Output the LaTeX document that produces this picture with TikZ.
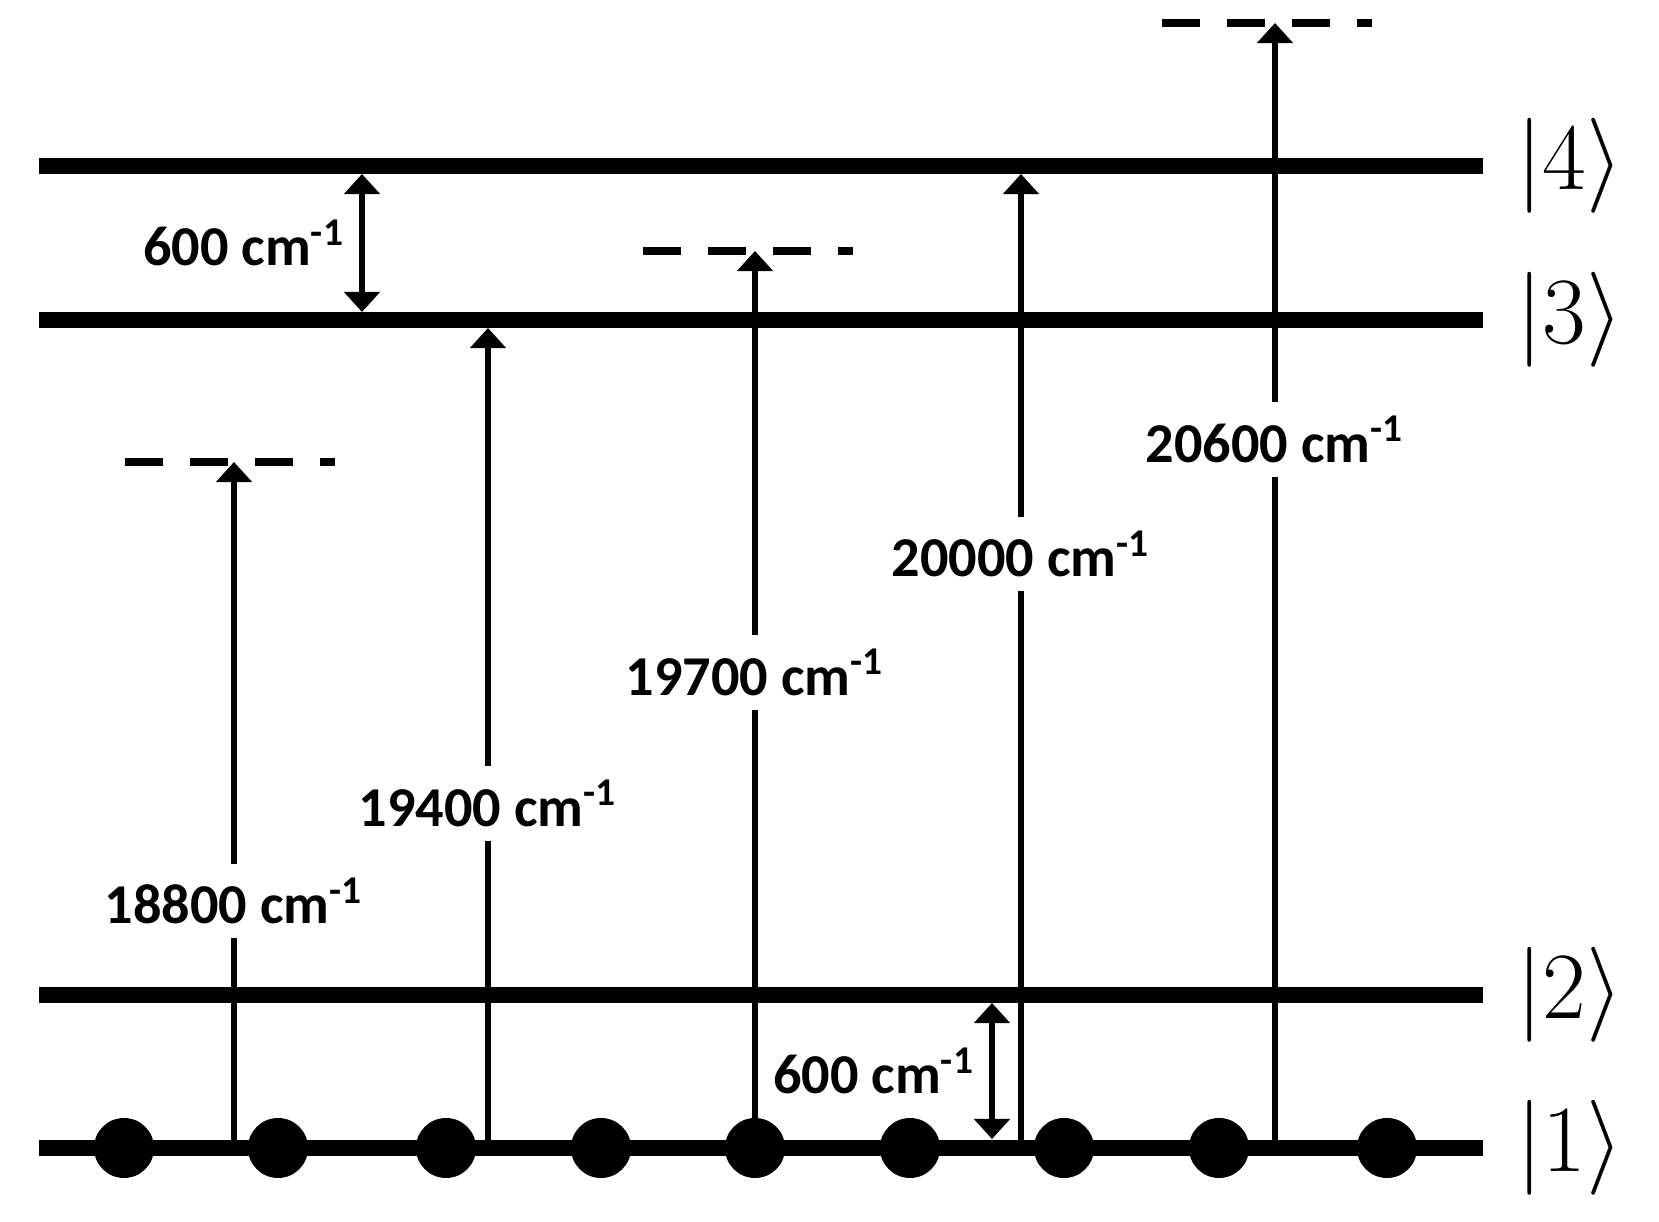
\documentclass[tikz,border=0pt]{standalone}
\usepackage{fix-cm}
\usepackage{fontspec}
\setsansfont{Carlito}
\usetikzlibrary{arrows.meta}

\begin{document}
\begin{tikzpicture}[%
    x=0.01cm, y=-0.01cm,
    level/.style={%
      line width=4.8pt     % thick level line
    },
    virtual/.style={%
      line width=2.3pt,    % thinner than a level
      dash pattern=on 0.38cm off 0.27cm
    },
    transition/.style={%
      ->,                  % single headed
      line width=1.8pt,    % medium arrows
      >={Triangle[width=3.5mm,length=2mm]}
    },
    spacing/.style={%
      transition,          % same as transition
      <->                  % but double headed
    },
    wavenumber/.style={%
      fill=white,          % cut the arrow below it
      inner sep=4pt,
      font=\sffamily\bfseries\fontsize{16}{18}\selectfont
    },
    ket/.style={%
      inner sep=0pt,
      font=\fontsize{27}{30}\selectfont
    },
    electron/.style={%
      circle,              % round dot
      fill=black,          % filled in black
      minimum size=0.6cm,
      inner sep=0pt
    }
]
    \useasboundingbox (0,0) rectangle (1659,1222);

    % levels
    \coordinate (lvl1-w) at (39,1148);  \coordinate (lvl1-e) at (1483,1148);
    \coordinate (lvl2-w) at (39,995);   \coordinate (lvl2-e) at (1483,995);
    \coordinate (lvl3-w) at (39,320);   \coordinate (lvl3-e) at (1483,320);
    \coordinate (lvl4-w) at (39,166);   \coordinate (lvl4-e) at (1483,166);

    \draw[level] (lvl1-w) -- (lvl1-e);
    \draw[level] (lvl2-w) -- (lvl2-e);
    \draw[level] (lvl3-w) -- (lvl3-e);
    \draw[level] (lvl4-w) -- (lvl4-e);

    \node at (1570,1148) [ket] (ket1) {$|1\rangle$};
    \node at (1570,995)  [ket] (ket2) {$|2\rangle$};
    \node at (1570,320)  [ket] (ket3) {$|3\rangle$};
    \node at (1570,166)  [ket] (ket4) {$|4\rangle$};

    % virtual levels
    \coordinate (virt1-w) at (125,462);  \coordinate (virt1-e) at (335,462);
    \coordinate (virt2-w) at (643,251);  \coordinate (virt2-e) at (853,251);
    \coordinate (virt3-w) at (1162,23);  \coordinate (virt3-e) at (1372,23);

    \draw[virtual] (virt1-w) -- (virt1-e);
    \draw[virtual] (virt2-w) -- (virt2-e);
    \draw[virtual] (virt3-w) -- (virt3-e);

    % transitions
    \coordinate (from1) at (234,1148);   \coordinate (to1) at (234,462);
    \coordinate (from2) at (488,1148);   \coordinate (to2) at (488,328);
    \coordinate (from3) at (755,1148);   \coordinate (to3) at (755,251);
    \coordinate (from4) at (1021,1148);  \coordinate (to4) at (1021,174);
    \coordinate (from5) at (1275,1148);  \coordinate (to5) at (1275,23);

    \draw[transition]
    (from1) to
    node[pos=0.36,wavenumber] (wn1) {18800 cm\textsuperscript{-1}}
    (to1);

    \draw[transition]
    (from2) to
    node[pos=0.42,wavenumber] (wn2) {19400 cm\textsuperscript{-1}}
    (to2);

    \draw[transition]
    (from3) to
    node[pos=0.53,wavenumber] (wn3) {19700 cm\textsuperscript{-1}}
    (to3);

    \draw[transition]
    (from4) to
    node[pos=0.61,wavenumber] (wn4) {20000 cm\textsuperscript{-1}}
    (to4);

    \draw[transition]
    (from5) to
    node[pos=0.63,wavenumber] (wn5) {20600 cm\textsuperscript{-1}}
    (to5);

    % level spacings
    \coordinate (gap34-top) at (362,174);  \coordinate (gap34-bot) at (362,312);
    \coordinate (gap12-top) at (992,1003); \coordinate (gap12-bot) at (992,1139);

    \draw[spacing]
    (gap34-top) to
    node[left,wavenumber,fill=none] (sp34) {600 cm\textsuperscript{-1}}
    (gap34-bot);

    \draw[spacing]
    (gap12-top) to
    node[left,wavenumber,fill=none] (sp12) {600 cm\textsuperscript{-1}}
    (gap12-bot);

    % ground state population
    \node at (124,1148)  [electron] (e1) {};
    \node at (278,1148)  [electron] (e2) {};
    \node at (446,1148)  [electron] (e3) {};
    \node at (601,1148)  [electron] (e4) {};
    \node at (755,1148)  [electron] (e5) {};
    \node at (910,1148)  [electron] (e6) {};
    \node at (1064,1148) [electron] (e7) {};
    \node at (1219,1148) [electron] (e8) {};
    \node at (1387,1148) [electron] (e9) {};

\end{tikzpicture}
\end{document}
